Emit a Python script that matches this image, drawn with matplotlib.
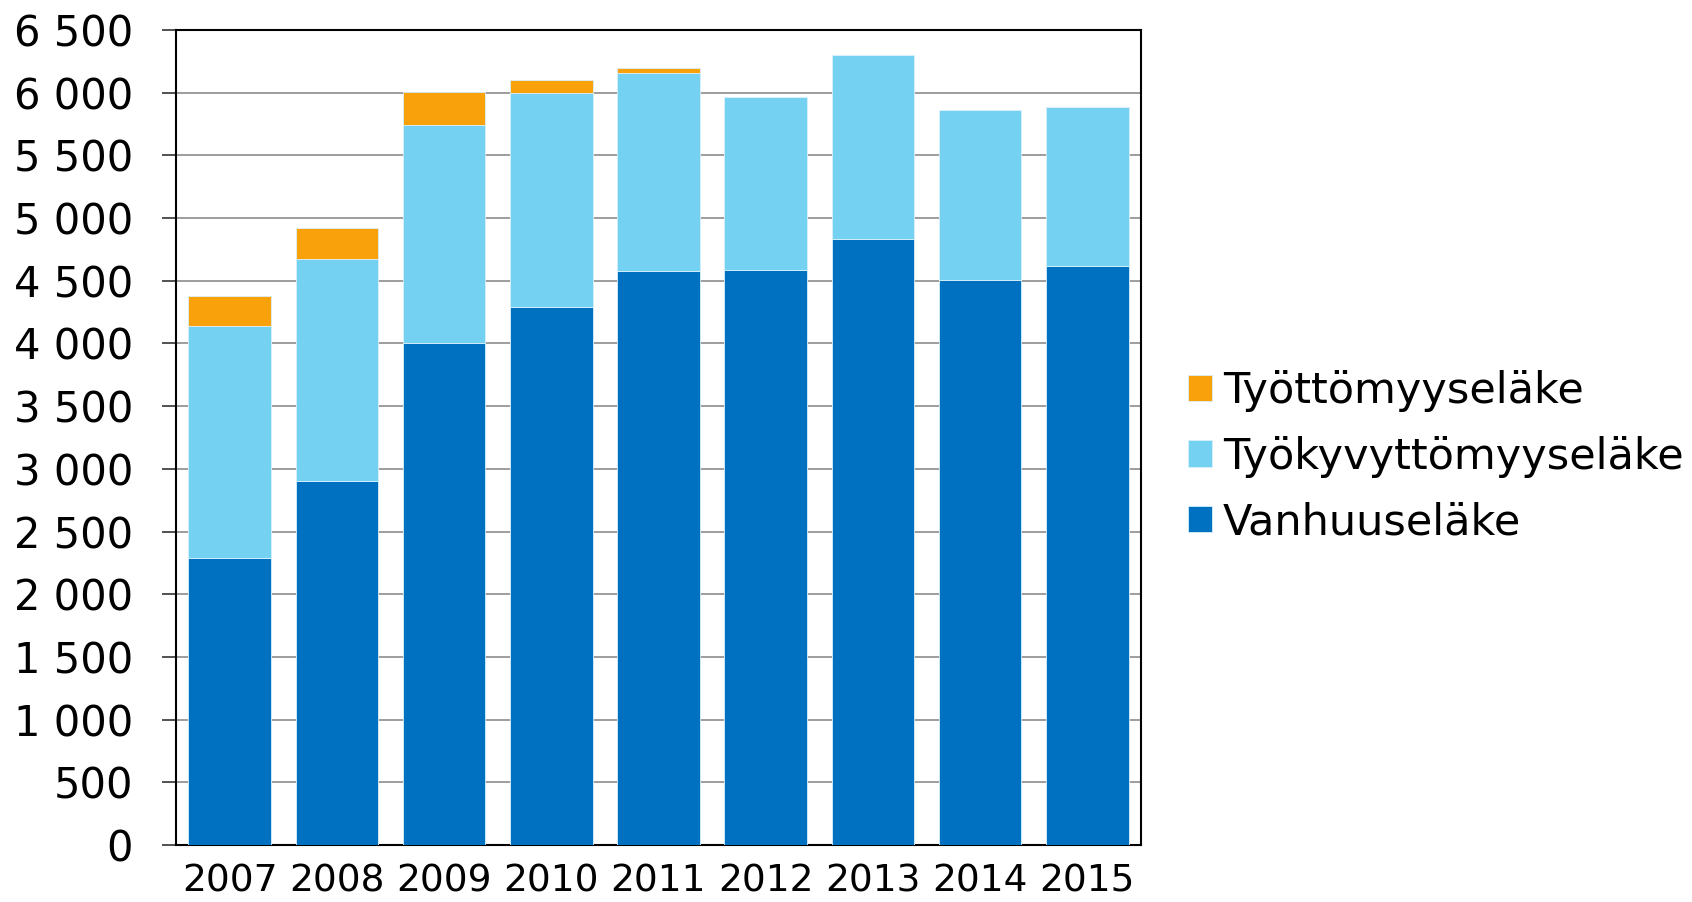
import numpy as np
import matplotlib
matplotlib.use("Agg")
import matplotlib.pyplot as plt
from matplotlib.ticker import FuncFormatter, MultipleLocator

# data
years = ["2007", "2008", "2009", "2010", "2011", "2012", "2013", "2014", "2015"]
vanhuus = [2290, 2900, 4000, 4290, 4580, 4590, 4830, 4510, 4620]
tyokyvyttomyys = [1850, 1770, 1745, 1710, 1580, 1375, 1470, 1350, 1265]
tyottomyys = [235, 250, 260, 100, 40, 0, 0, 0, 0]

labels = ["Vanhuuseläke", "Työkyvyttömyyseläke", "Työttömyyseläke"]
colors = ["#0070C0", "#75D1F1", "#F9A10A"]

plt.rcParams["font.family"] = "DejaVu Sans"

fig = plt.figure(figsize=(16.92, 9.02), dpi=100)
ax = fig.add_axes([0.104, 0.0632, 0.5703, 0.9035])

x = np.arange(len(years))
bottom = np.zeros(len(years))
handles = []
for vals, lab, col in zip([vanhuus, tyokyvyttomyys, tyottomyys], labels, colors):
    v = np.array(vals, dtype=float)
    b = ax.bar(x, v, 0.77, bottom=bottom, color=col, label=lab,
               edgecolor="#d8f0fb", linewidth=0.6, zorder=3)
    handles.append(b)
    bottom += v

ax.set_xlim(-0.5, len(years) - 0.5)
ax.set_ylim(0, 6500)
ax.yaxis.set_major_locator(MultipleLocator(500))
ax.yaxis.set_major_formatter(FuncFormatter(lambda v, p: f"{v:,.0f}".replace(",", " ")))
ax.set_xticks(x)
ax.set_xticklabels(years, fontsize=27)
ax.tick_params(axis="x", length=0, pad=13)
ax.tick_params(axis="y", labelsize=30, length=10, width=1.2, pad=21, color="#333333")
ax.grid(axis="y", color="#8c8c8c", lw=1.2, zorder=0)
ax.set_axisbelow(True)
for s in ax.spines.values():
    s.set_linewidth(1.5)
    s.set_color("black")

fig.legend(handles[::-1], labels[::-1], loc="center left",
           bbox_to_anchor=(1188 / 1692, 0.4937), frameon=False, fontsize=31,
           handlelength=0.56, handleheight=0.56, handletextpad=0.25,
           labelspacing=0.55, borderpad=0, borderaxespad=0)

fig.savefig("out.png", dpi=100)
